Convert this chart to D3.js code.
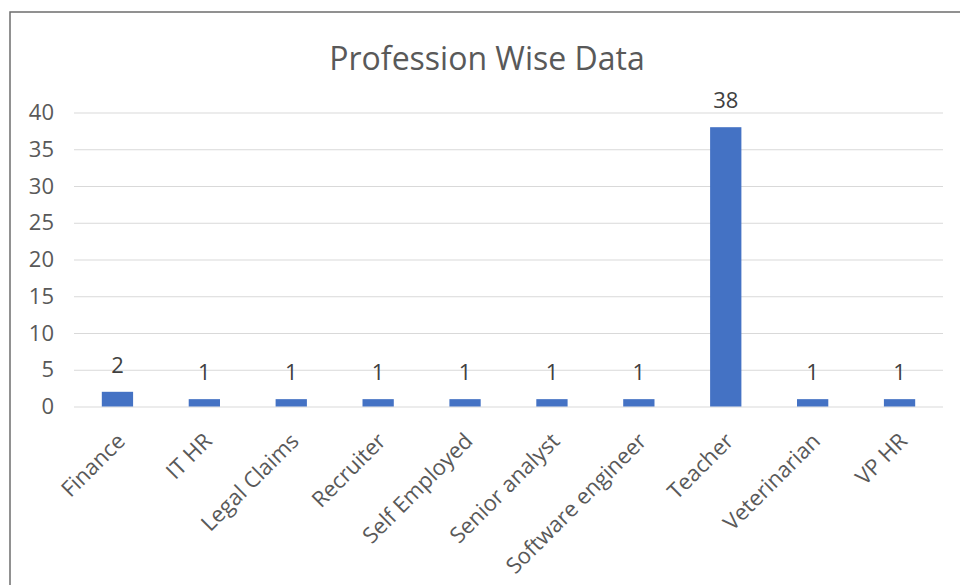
<!DOCTYPE html>
<html>
<head>
<meta charset="utf-8">
<script src="https://cdn.jsdelivr.net/npm/d3@7"></script>
<style>
  html, body { margin: 0; padding: 0; background: #fff; }
  svg { display: block; font-family: "Open Sans", "Noto Sans", sans-serif; }
</style>
</head>
<body>
<svg id="chart" width="960" height="585"></svg>
<script>
// Profession counts
const professions = ["Finance", "IT HR", "Legal Claims", "Recruiter", "Self Employed",
  "Senior analyst", "Software engineer", "Teacher", "Veterinarian", "VP HR"];
const counts = [2, 1, 1, 1, 1, 1, 1, 38, 1, 1];
const yTicks = [0, 5, 10, 15, 20, 25, 30, 35, 40];
const chartTitle = "Profession Wise Data";

const svg = d3.select("#chart");
const W = 960, H = 585;
const plot = { left: 74, right: 943, top: 112.5, bottom: 406.5 };

// Chart frame (extends past the canvas on the right and bottom)
svg.append("rect")
  .attr("x", 10).attr("y", 12)
  .attr("width", W + 20).attr("height", H + 20)
  .attr("fill", "#fff")
  .attr("stroke", "#6e6e6e")
  .attr("stroke-width", 1.5);

const x = d3.scaleBand()
  .domain(professions)
  .range([plot.left, plot.right])
  .paddingInner(0.64)
  .paddingOuter(0.32);

const y = d3.scaleLinear()
  .domain([0, 40])
  .range([plot.bottom, plot.top]);

// Title
svg.append("text")
  .attr("x", 487).attr("y", 70)
  .attr("text-anchor", "middle")
  .attr("font-size", 32)
  .attr("fill", "#595959")
  .text(chartTitle);

// Gridlines and value axis labels
const yAxis = d3.axisLeft(y)
  .tickValues(yTicks)
  .tickSize(-(plot.right - plot.left))
  .tickPadding(20)
  .tickFormat(d3.format("d"));

const gy = svg.append("g")
  .attr("transform", `translate(${plot.left},0)`)
  .call(yAxis);
gy.select(".domain").remove();
gy.selectAll(".tick line").attr("stroke", "#d9d9d9").attr("stroke-width", 1);
gy.selectAll(".tick text")
  .attr("font-size", 22)
  .attr("fill", "#595959")
  .attr("font-family", "Open Sans, Noto Sans, sans-serif");

// Category axis labels
const xAxis = d3.axisBottom(x).tickSize(0).tickPadding(0);
const gx = svg.append("g")
  .attr("transform", `translate(0,${plot.bottom})`)
  .call(xAxis);
gx.select(".domain").remove();
gx.selectAll(".tick text")
  .attr("font-size", 22)
  .attr("fill", "#595959")
  .attr("font-family", "Open Sans, Noto Sans, sans-serif")
  .attr("text-anchor", "end")
  .attr("dy", null)
  .attr("y", 0)
  .attr("transform", "translate(9,36) rotate(-45)");

// Bars
svg.append("g")
  .selectAll("rect")
  .data(professions.map((p, i) => ({ p, v: counts[i] })))
  .join("rect")
  .attr("x", d => x(d.p))
  .attr("y", d => y(d.v))
  .attr("width", x.bandwidth())
  .attr("height", d => y(0) - y(d.v))
  .attr("fill", "#4472c4");

// Value labels
svg.append("g")
  .selectAll("text")
  .data(professions.map((p, i) => ({ p, v: counts[i] })))
  .join("text")
  .attr("x", d => x(d.p) + x.bandwidth() / 2)
  .attr("y", d => y(d.v) - 19)
  .attr("text-anchor", "middle")
  .attr("font-size", 22)
  .attr("fill", "#404040")
  .text(d => d.v);
</script>
</body>
</html>
